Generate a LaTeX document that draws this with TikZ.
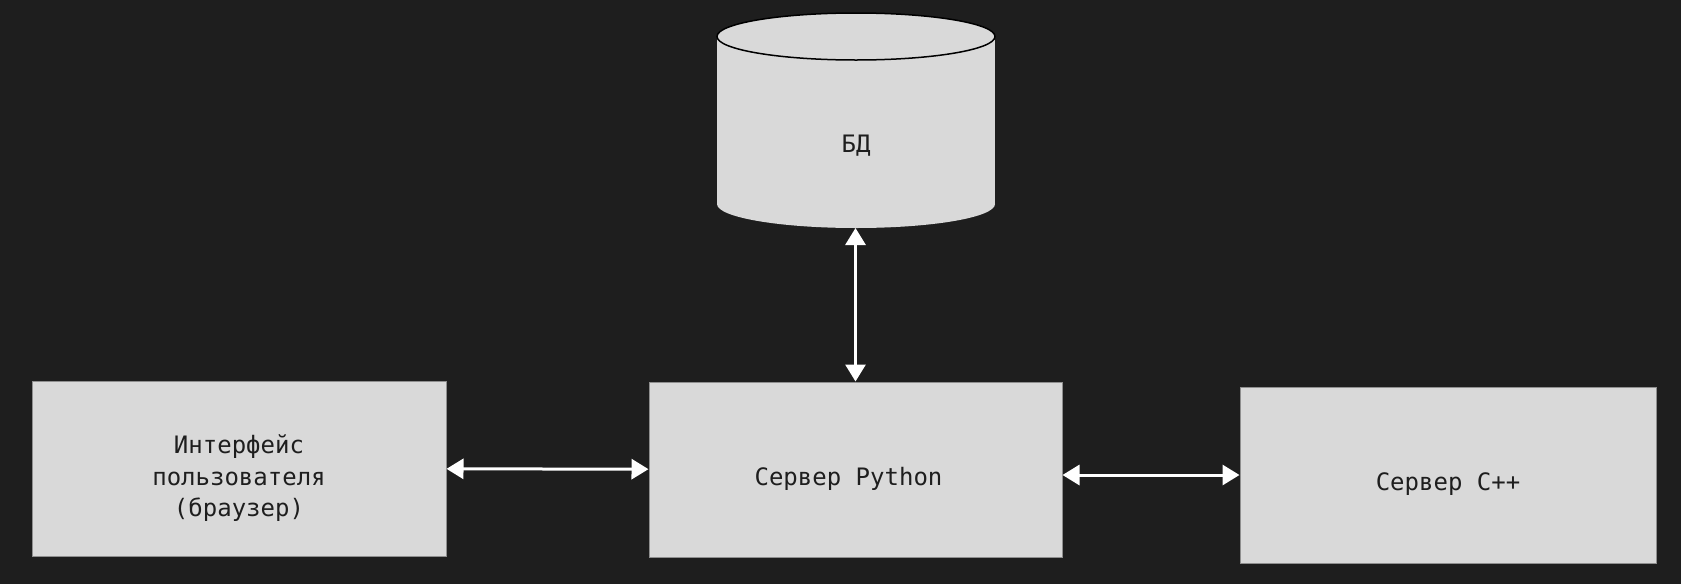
\documentclass[tikz,border=0pt]{standalone}
\usepackage{fontspec}
\setmonofont{DejaVu Sans Mono}
\usepackage{xcolor}
\usepackage{tikz}
\usetikzlibrary{arrows.meta,positioning}
\definecolor{bg}{HTML}{1E1E1E}
\definecolor{boxfill}{HTML}{D9D9D9}
\definecolor{boxline}{HTML}{8F8F8F}
\tikzset{
  box/.style={draw=boxline, line width=1pt, fill=boxfill, text=bg, align=center,
    font=\ttfamily\fontsize{24}{31.5}\selectfont, inner sep=0pt},
  lowtext/.style={text height=31pt, text depth=0pt},
  dbtext/.style={text=bg, font=\ttfamily\fontsize{24}{31.5}\selectfont},
  arrow/.style={{Triangle[length=17pt,width=20pt]}-{Triangle[length=17pt,width=20pt]}, line width=3pt, white},
}

\begin{document}
\begin{tikzpicture}[x=1pt,y=-1pt]
\fill[bg] (0,0) rectangle (1681,584);
\useasboundingbox (0,0) rectangle (1681,584);
% cylinder of the database
\fill[boxfill] (856,204) ellipse [x radius=139, y radius=24];
\fill[boxfill] (717,36.5) rectangle (995,204);
\filldraw[fill=boxfill, draw=black, line width=1.5pt] (856,36.5) ellipse [x radius=139, y radius=23.5];
\node[dbtext] (db) at (856,146) {БД};
\coordinate (dbbot) at (856,228);
% boxes
\node[box, text height=96pt, text depth=0pt, minimum width=414pt, minimum height=175pt] (ui) at (239,468.5) {Интерфейс\\пользователя\\(браузер)};
\node[box, lowtext, minimum width=413pt, minimum height=175pt, right=202pt of ui, yshift=-1pt] (py) {Сервер Python\hspace*{14pt}};
\node[box, lowtext, minimum width=416pt, minimum height=176pt, right=177pt of py, yshift=-5.5pt] (cpp) {Сервер C++};
\draw[arrow] (dbbot -| py.north) -- (py.north);
\draw[arrow] (ui) -- (py);
\draw[arrow] (py.east |- cpp.west) -- (cpp.west);
\end{tikzpicture}
\end{document}
